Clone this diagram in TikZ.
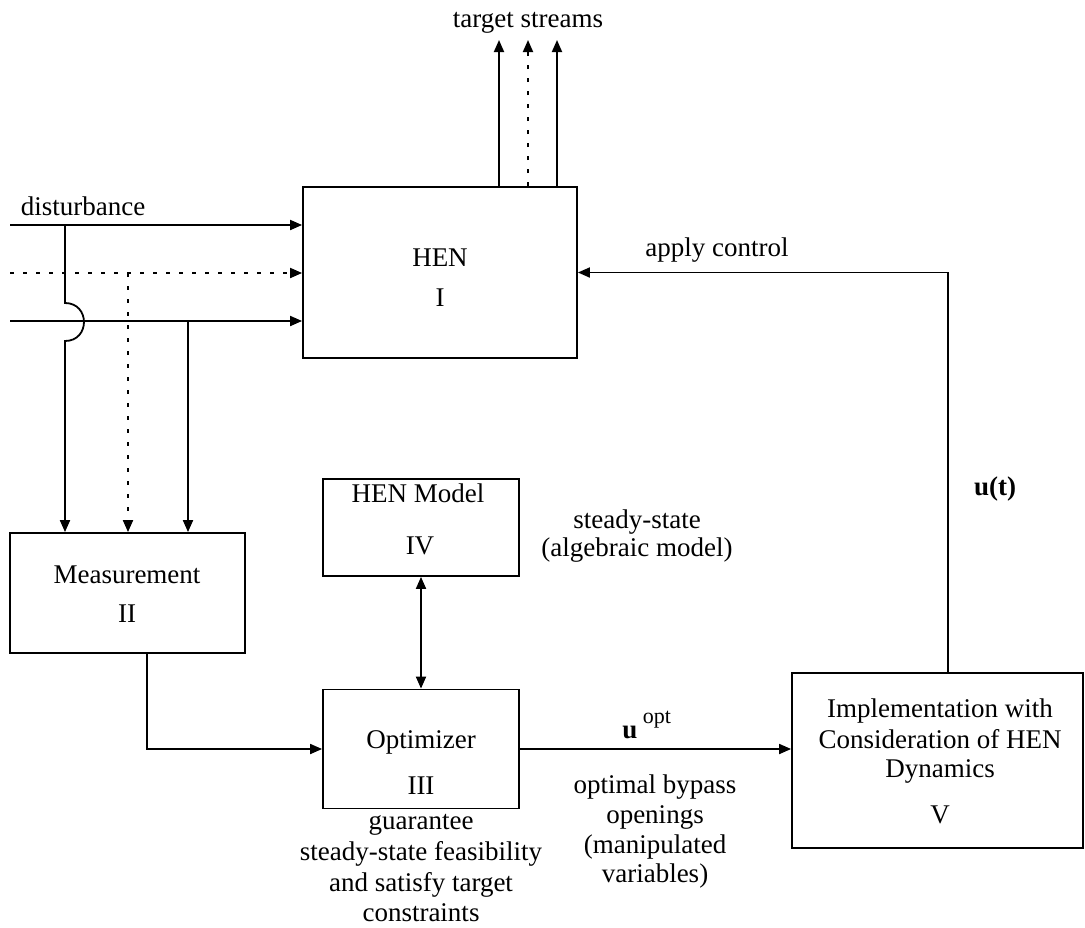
\documentclass[tikz,border=0pt]{standalone}
\usepackage{fontspec}
\setmainfont{Liberation Serif}
\usetikzlibrary{arrows.meta}
\begin{document}
\begin{tikzpicture}[x=1pt,y=-1pt,
  box/.style={draw,line width=1.8pt,inner sep=0pt,minimum width=#1},
  txt/.style={font=\fontsize{27}{31}\selectfont,inner sep=0pt,anchor=base},
  arr/.style={line width=1.8pt,-{Triangle[length=12pt,width=10pt]}},
  darr/.style={line width=1.8pt,{Triangle[length=12pt,width=10pt]}-{Triangle[length=12pt,width=10pt]}},
  dotline/.style={dash pattern=on 4pt off 9pt}]
\useasboundingbox (0,0) rectangle (1085,927);
% boxes
\node[box=274pt,minimum height=171pt] (hen) at (440,272.5) {};
\node[box=235pt,minimum height=120pt] (meas) at (127.5,593) {};
\node[box=196pt,minimum height=97pt] (model) at (421,527.5) {};
\node[box=196pt,minimum height=119pt] (opt) at (421,749) {};
\node[box=291pt,minimum height=175pt] (impl) at (937.5,760.5) {};
% box texts
\node[txt] (henA) at (440,266) {HEN};
\node[txt] (henB) at (440,306) {I};
\node[txt] (measA) at (127,583) {Measurement};
\node[txt] (measB) at (127,622) {II};
\node[txt] (modelA) at (418,502) {HEN Model};
\node[txt] (modelB) at (420,554) {IV};
\node[txt] (optA) at (421,748) {Optimizer};
\node[txt] (optB) at (421,794) {III};
\node[txt] (implA) at (940,717) {Implementation with};
\node[txt] (implB) at (940,748) {Consideration of HEN};
\node[txt] (implC) at (940,777) {Dynamics};
\node[txt] (implD) at (940,823) {V};
% other labels
\node[txt] (ts) at (528,27) {target streams};
\node[txt] (dist) at (83,215) {disturbance};
\node[txt] (apc) at (717,256) {apply control};
\node[txt,font=\fontsize{27}{31}\selectfont\bfseries] (ut) at (995,495) {u(t)};
\node[txt,font=\fontsize{27}{31}\selectfont\bfseries] (uo) at (630,738) {u};
\node[txt,font=\fontsize{22}{26}\selectfont] (uoS) at (657,723) {opt};
\node[txt] (ss1) at (637,528) {steady-state};
\node[txt] (ss2) at (637,556) {(algebraic model)};
\node[txt] (g1) at (421,829) {guarantee};
\node[txt] (g2) at (421,860) {steady-state feasibility};
\node[txt] (g3) at (421,891) {and satisfy target};
\node[txt] (g4) at (421,921) {constraints};
\node[txt] (ob1) at (655,793) {optimal bypass};
\node[txt] (ob2) at (655,823) {openings};
\node[txt] (ob3) at (655,853) {(manipulated};
\node[txt] (ob4) at (655,882) {variables)};
% input streams
\coordinate (in1) at (10,225);
\coordinate (in2) at (10,273);
\coordinate (in3) at (10,321);
\draw[arr] (in1) -- (in1 -| hen.west);
\draw[arr,dotline] (in2) -- (in2 -| hen.west);
\draw[arr] (in3) -- (in3 -| hen.west);
% measurement taps
\coordinate (t1) at (65,226);
\coordinate (t2) at (128,273);
\coordinate (t3) at (188,321);
\draw[arr] (t1) -- (65,303) .. controls (90.3,303) and (90.3,341) .. (65,341) -- (t1 |- meas.north);
\draw[arr,dotline] (t2) -- (t2 |- meas.north);
\draw[arr] (t3) -- (t3 |- meas.north);
% target streams
\coordinate (o1) at (499,40);
\coordinate (o2) at (528,40);
\coordinate (o3) at (557,40);
\draw[arr] (o1 |- hen.north) -- (o1);
\draw[arr,dotline] (o2 |- hen.north) -- (o2);
\draw[arr] (o3 |- hen.north) -- (o3);
% measurement -> optimizer
\coordinate (mo) at (147,0);
\draw[arr] (mo |- meas.south) |- (opt.west);
% model <-> optimizer
\draw[darr] (model.south) -- (opt.north);
% optimizer -> implementation
\draw[arr] (opt.east) -- (opt.east -| impl.west);
% implementation -> HEN
\coordinate (ic) at (948,0);
\draw[arr] (ic |- impl.north) |- (hen.east);
\end{tikzpicture}
\end{document}
